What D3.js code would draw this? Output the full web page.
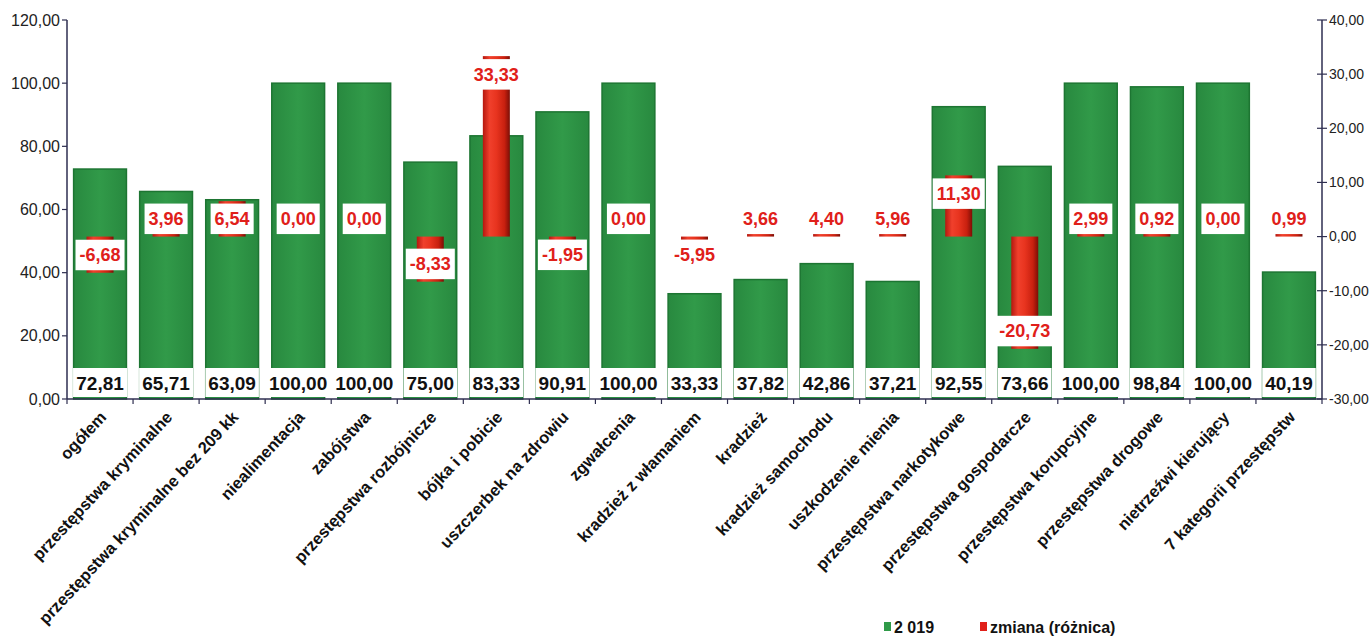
<!DOCTYPE html>
<html><head><meta charset="utf-8">
<script src="https://cdn.jsdelivr.net/npm/d3@7"></script>
<style>
html,body{margin:0;padding:0;background:#fff;}
svg{display:block;font-family:Arial,"Liberation Sans",sans-serif;}
</style></head>
<body><svg id="chart" width="1370" height="640"></svg>
<script>
const categories = ["ogółem","przestępstwa kryminalne","przestępstwa kryminalne bez 209 kk","niealimentacja","zabójstwa","przestępstwa rozbójnicze","bójka i pobicie","uszczerbek na zdrowiu","zgwałcenia","kradzież z włamaniem","kradzież","kradzież samochodu","uszkodzenie mienia","przestępstwa narkotykowe","przestępstwa gospodarcze","przestępstwa korupcyjne","przestępstwa drogowe","nietrzeźwi kierujący","7 kategorii przestępstw"];
const values2019 = [72.81,65.71,63.09,100.00,100.00,75.00,83.33,90.91,100.00,33.33,37.82,42.86,37.21,92.55,73.66,100.00,98.84,100.00,40.19];
const zmiana = [-6.68,3.96,6.54,0.00,0.00,-8.33,33.33,-1.95,0.00,-5.95,3.66,4.40,5.96,11.30,-20.73,2.99,0.92,0.00,0.99];
const leftTicks = [0,20,40,60,80,100,120];
const rightTicks = [-30,-20,-10,0,10,20,30,40];
const seriesNames = ["2 019","zmiana (różnica)"];

const svg = d3.select("#chart");
const L = 67, R = 1322, T = 20, B = 399;
const fmt = v => d3.format(".2f")(v).replace(".", ",").replace("\u2212", "-");

const x = d3.scaleBand().domain(categories).range([L, R]).paddingInner(0.17).paddingOuter(0.085);
const yL = d3.scaleLinear().domain([0,120]).range([B, T]);
const yR = d3.scaleLinear().domain([-30,40]).range([B, T]);

const defs = svg.append("defs");
const g1 = defs.append("linearGradient").attr("id","redg").attr("x1","0").attr("x2","1").attr("y1","0").attr("y2","0");
[["0%","#b5180f"],["25%","#f0402c"],["50%","#e8341f"],["80%","#c8200f"],["100%","#7c0e06"]].forEach(s=>g1.append("stop").attr("offset",s[0]).attr("stop-color",s[1]));
const g2 = defs.append("linearGradient").attr("id","greeng").attr("x1","0").attr("x2","1").attr("y1","0").attr("y2","0");
[["0%","#28893f"],["50%","#319a49"],["100%","#28893f"]].forEach(s=>g2.append("stop").attr("offset",s[0]).attr("stop-color",s[1]));

// green bars
svg.append("g").selectAll("rect").data(categories).join("rect")
  .attr("x", d => x(d)+1).attr("width", x.bandwidth()-2)
  .attr("y", (d,i) => yL(values2019[i])).attr("height", (d,i) => yL(0)-yL(values2019[i]))
  .attr("fill","url(#greeng)").attr("stroke","#1d7532").attr("stroke-width",1.5);

// red bars
const rw = 27;
svg.append("g").selectAll("rect").data(categories).join("rect")
  .attr("x", d => x(d)+x.bandwidth()/2-rw/2).attr("width", rw)
  .attr("y", (d,i) => Math.min(yR(zmiana[i]), yR(0)))
  .attr("height", (d,i) => Math.abs(yR(zmiana[i])-yR(0)))
  .attr("fill","url(#redg)");

// axes
const axisCol = "#2e2e50";
svg.append("line").attr("x1",L).attr("x2",L).attr("y1",T).attr("y2",B).attr("stroke",axisCol).attr("stroke-width",1.5);
svg.append("line").attr("x1",R).attr("x2",R).attr("y1",T).attr("y2",B).attr("stroke",axisCol).attr("stroke-width",1.5);
svg.append("line").attr("x1",L).attr("x2",R).attr("y1",B).attr("y2",B).attr("stroke",axisCol).attr("stroke-width",1.5);

const gl = svg.append("g");
leftTicks.forEach(t => {
  gl.append("line").attr("x1",L-5).attr("x2",L).attr("y1",yL(t)).attr("y2",yL(t)).attr("stroke",axisCol).attr("stroke-width",1.2);
  gl.append("text").attr("x",L-7).attr("y",yL(t)).attr("dy","0.35em").attr("text-anchor","end")
    .attr("font-size",16).attr("fill","#222").text(fmt(t));
});
const gr = svg.append("g");
rightTicks.forEach(t => {
  gr.append("line").attr("x1",R-5).attr("x2",R+5).attr("y1",yR(t)).attr("y2",yR(t)).attr("stroke",axisCol).attr("stroke-width",1.2);
  gr.append("text").attr("x",R+7).attr("y",yR(t)).attr("dy","0.35em").attr("text-anchor","start")
    .attr("font-size",14).attr("fill","#222").text(fmt(t));
});
// category boundary ticks
const step = x.step();
for (let i=0;i<=categories.length;i++){
  const xx = L + i*step;
  svg.append("line").attr("x1",xx).attr("x2",xx).attr("y1",B).attr("y2",B+5).attr("stroke",axisCol).attr("stroke-width",1.2);
}

// category labels
svg.append("g").selectAll("text").data(categories).join("text")
  .attr("transform", d => `translate(${x(d)+x.bandwidth()/2+3},${B+15}) rotate(-47)`)
  .attr("text-anchor","end").attr("dy","0.35em")
  .attr("font-size",16.5).attr("font-weight","bold").attr("fill","#111").text(d => d);

// green value labels
const gv = svg.append("g");
categories.forEach((c,i) => {
  const cx = x(c)+x.bandwidth()/2;
  const t = gv.append("text").attr("x",cx).attr("y",383).attr("dy","0.36em").attr("text-anchor","middle")
    .attr("font-size",19).attr("font-weight","bold").attr("fill","#111").text(fmt(values2019[i]));
  const bb = t.node().getBBox();
  const w = Math.max(bb.width+6, x.bandwidth()-4);
  gv.insert("rect","text").attr("x",cx-w/2).attr("y",368).attr("width",w).attr("height",29).attr("fill","#fff");
});

// red value labels
const rv = svg.append("g");
categories.forEach((c,i) => {
  const cx = x(c)+x.bandwidth()/2;
  const v = zmiana[i];
  const y0 = yR(0), yv = yR(v);
  const cy = v >= 0 ? Math.min(yv+18, y0-18) : Math.max(yv-18, y0+18);
  const t = rv.append("text").attr("x",cx).attr("y",cy).attr("dy","0.36em").attr("text-anchor","middle")
    .attr("font-size",18).attr("font-weight","bold").attr("fill","#e0201a").text(fmt(v));
  const bb = t.node().getBBox();
  const w = bb.width+8;
  rv.insert("rect","text").attr("x",cx-w/2).attr("y",cy-15).attr("width",w).attr("height",30.5).attr("fill","#fff");
});

// legend
const lg = svg.append("g").attr("font-size",16).attr("font-weight","bold").attr("fill","#111");
lg.append("rect").attr("x",884).attr("y",622).attr("width",7).attr("height",9).attr("fill","#2f9a48");
lg.append("text").attr("x",894).attr("y",627).attr("dy","0.36em").text(seriesNames[0]);
lg.append("rect").attr("x",980).attr("y",622).attr("width",7).attr("height",9).attr("fill","#e0201a");
lg.append("text").attr("x",990).attr("y",627).attr("dy","0.36em").text(seriesNames[1]);
</script></body></html>
